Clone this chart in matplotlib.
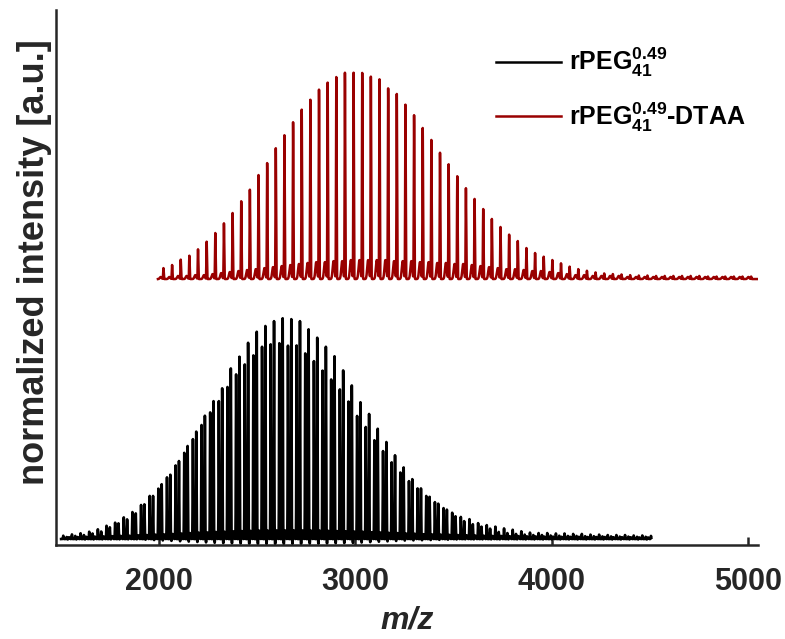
import numpy as np
import matplotlib
matplotlib.use('Agg')
import matplotlib.pyplot as plt
from matplotlib.lines import Line2D

plt.rcParams['font.family'] = ['Liberation Sans', 'DejaVu Sans']
plt.rcParams['font.weight'] = 'bold'
plt.rcParams['mathtext.fontset'] = 'custom'
plt.rcParams['mathtext.bf'] = 'Liberation Sans:bold'
plt.rcParams['mathtext.rm'] = 'Liberation Sans:bold'
plt.rcParams['mathtext.it'] = 'Liberation Sans:bold:italic'

#####peak lists (intensity in % of series max)#####
# rPEG41 : main series (tall member of each doublet)
black_mz_a = [1531, 1575, 1619, 1663, 1707, 1751, 1795, 1839, 1883, 1927, 1971, 2015,
              2059, 2103, 2147, 2191, 2235, 2279, 2323, 2367, 2411, 2455, 2499, 2543,
              2587, 2631, 2675, 2719, 2763, 2807, 2851, 2895, 2939, 2983, 3027, 3071,
              3115, 3159, 3203, 3247, 3291, 3335, 3379, 3423, 3467, 3511, 3555, 3599,
              3643, 3687, 3731, 3775, 3819, 3863, 3907, 3951, 3995, 4039, 4083, 4127,
              4171, 4215, 4259, 4303, 4347, 4391, 4435, 4479]
black_int_a = [0.9, 1.4, 1.8, 2.5, 3.4, 5.3, 7.1, 8.9, 11.6, 15.7, 19.5, 24.8,
               29.1, 35.3, 42.1, 48.6, 55.8, 62.4, 68.2, 77.2, 82.5, 88.8, 93.8, 96.4,
               98.6, 99.9, 99.5, 98.6, 94.9, 91.1, 87.0, 82.7, 76.3, 69.5, 61.9, 56.6,
               49.9, 43.9, 37.9, 32.4, 27.1, 22.9, 19.1, 16.0, 13.3, 10.3, 8.1, 6.7,
               5.6, 4.7, 3.2, 2.7, 2.3, 2.0, 1.8, 1.8, 1.6, 1.5, 1.4, 1.4,
               1.3, 1.3, 1.2, 1.2, 1.1, 1.1, 1.0, 1.0]
# rPEG41 : second series (left member of each doublet)
black_mz_b = [1514, 1558, 1602, 1646, 1690, 1734, 1778, 1822, 1866, 1910, 1954, 1998,
              2042, 2086, 2130, 2174, 2218, 2262, 2306, 2350, 2394, 2438, 2482, 2526,
              2570, 2614, 2658, 2702, 2746, 2790, 2834, 2878, 2922, 2966, 3010, 3054,
              3098, 3142, 3186, 3230, 3274, 3318, 3362, 3406, 3450, 3494, 3538, 3582,
              3626, 3670, 3714, 3758, 3802, 3846, 3890, 3934, 3978, 4022, 4066, 4110,
              4154, 4198, 4242, 4286, 4330, 4374, 4418, 4462, 4506]
black_int_b = [1.5, 2.1, 2.6, 3.3, 4.4, 6.0, 7.4, 9.8, 12.2, 15.4, 19.5, 22.8,
               27.9, 33.3, 39.0, 45.2, 51.6, 57.3, 62.4, 68.8, 74.5, 79.0, 83.1, 87.0,
               88.1, 88.6, 87.5, 87.6, 84.0, 80.5, 76.2, 72.2, 67.7, 62.2, 55.7, 50.7,
               44.7, 39.8, 34.7, 30.1, 26.2, 22.9, 19.5, 16.7, 14.0, 11.9, 10.0, 9.0,
               7.2, 6.3, 5.6, 4.8, 4.2, 3.5, 2.9, 2.7, 2.7, 2.5, 2.5, 2.3,
               2.3, 2.0, 2.0, 1.8, 1.8, 1.8, 1.6, 1.6, 1.4]
# small peaks between the doublets and the undershoot next to them (per doublet)
black_minor = [0.8, 0.9, 1.0, 1.1, 1.2, 1.3, 1.4, 1.5, 1.7, 1.8, 2.0, 2.1,
               2.3, 2.5, 2.7, 2.9, 3.0, 3.2, 3.3, 3.5, 3.6, 3.7, 3.8, 3.8,
               3.9, 3.9, 3.9, 3.9, 3.8, 3.8, 3.7, 3.6, 3.5, 3.4, 3.3, 3.1,
               3.0, 2.8, 2.7, 2.5, 2.4, 2.2, 2.1, 2.0, 1.9, 1.8, 1.7, 1.6,
               1.5, 1.4, 1.4, 1.3, 1.3, 1.2, 1.2, 1.1, 1.1, 1.0, 1.0, 1.0,
               0.9, 0.9, 0.9, 0.8, 0.8, 0.8, 0.7, 0.7]
black_dip = [-0.3, -0.3, -0.3, -0.3, -0.3, -0.3, -0.3, -0.3, -0.3,
             -0.5, -0.7, -0.9, -1.1, -1.3, -1.5, -1.7, -1.9, -2.1, -2.3,
             -2.4, -2.5, -2.6, -2.7, -2.7, -2.7, -2.7, -2.7, -2.7, -2.6, -2.6, -2.5, -2.4, -2.3,
             -2.2, -2.0, -1.8, -1.6, -1.4, -1.2, -1.0, -0.9, -0.8, -0.7, -0.6, -0.5, -0.4,
             -0.3, -0.3, -0.3, -0.3, -0.3, -0.3, -0.3, -0.3, -0.3, -0.3, -0.3,
             -0.3, -0.3, -0.3, -0.3, -0.3, -0.3, -0.3, -0.3, -0.3, -0.3, -0.3]

# rPEG41-DTAA
red_mz = [2024, 2068, 2112, 2156, 2200, 2244, 2288, 2332, 2376, 2420, 2464, 2508,
          2552, 2596, 2640, 2684, 2728, 2772, 2816, 2860, 2904, 2948, 2992, 3036,
          3080, 3124, 3168, 3212, 3256, 3300, 3344, 3388, 3432, 3476, 3520, 3564,
          3608, 3652, 3696, 3740, 3784, 3828, 3872, 3916, 3960, 4004, 4048, 4092,
          4136, 4180, 4224, 4268, 4312, 4356, 4400, 4444, 4488, 4532, 4576, 4620,
          4664, 4708, 4752, 4796, 4840, 4884, 4928, 4972, 5016]
red_int = [5.3, 6.8, 9.4, 11.3, 14.4, 18.1, 22.3, 27.0, 32.0, 37.7, 43.3, 50.4,
           56.2, 63.4, 69.7, 76.0, 82.1, 86.9, 91.8, 95.2, 97.9, 100.0, 100.0, 99.9,
           98.1, 96.8, 92.4, 89.7, 84.5, 79.4, 73.2, 67.4, 61.2, 55.6, 49.8, 44.0,
           38.8, 33.9, 29.1, 25.2, 21.5, 18.4, 15.0, 12.6, 10.8, 9.2, 7.6, 6.0,
           4.8, 4.0, 3.2, 2.7, 2.4, 2.2, 1.9, 1.7, 1.7, 1.5, 1.5, 1.5,
           1.5, 1.5, 1.5, 1.2, 1.2, 1.2, 1.2, 1.2, 1.2]
red_minor = [1.0, 1.0, 1.5, 1.5, 1.9, 1.9, 2.4, 2.9, 3.4, 3.9, 4.4, 4.8,
             5.3, 5.8, 6.3, 6.8, 7.3, 7.8, 8.2, 8.2, 8.7, 8.7, 9.2, 9.2,
             9.2, 9.2, 9.2, 8.7, 8.7, 8.7, 8.2, 8.2, 7.8, 7.8, 7.3, 7.3,
             6.8, 6.3, 5.8, 5.3, 4.8, 4.8, 4.4, 3.9, 3.9, 3.4, 2.9, 2.4,
             1.9, 1.9, 1.5, 1.5, 1.5, 1.5, 1.0, 1.0, 1.0, 1.0, 1.0, 1.0,
             1.0, 1.0, 1.0, 1.0, 1.0, 1.0, 1.0, 1.0, 1.0]

labels = [r'rPEG$^{\mathbf{0.49}}_{\mathbf{41}}$', r'rPEG$^{\mathbf{0.49}}_{\mathbf{41}}$-DTAA']
xticks = [2000, 3000, 4000, 5000]

black_range = (1503, 4508)
red_range = (1996, 5045)
minor_shift = 12      # Da, small peaks after each doublet
dip_shift = 6         # Da
red_minor_shift = -14 # Da
red_offset = 1.1765   # vertical stacking
red_scale = 0.933


def profile(grid, mz, inten, width):
    y = np.zeros_like(grid)
    for m, h in zip(mz, inten):
        y += h / 100.0 * np.exp(-0.5 * ((grid - m) / width) ** 2)
    return y


#####build traces#####
mz_black = np.arange(black_range[0], black_range[1], 0.25)
y_black = profile(mz_black, black_mz_a, black_int_a, 1.3)
y_black += profile(mz_black, black_mz_b, black_int_b, 1.3)
y_black += profile(mz_black, np.array(black_mz_a) + minor_shift, black_minor, 3.0)
y_black += profile(mz_black, np.array(black_mz_a) + dip_shift, black_dip, 1.2)

mz_red = np.arange(red_range[0], red_range[1], 0.25)
y_red = profile(mz_red, red_mz, red_int, 1.4)
y_red += profile(mz_red, np.array(red_mz) + red_minor_shift, red_minor, 4.5)
y_red = red_offset + red_scale * y_red

#####plot#####
dark = '#262626'
red = '#990000'
fig = plt.figure(figsize=(7.85, 6.39), dpi=100)
ax = fig.add_axes([56/785, 94/639, 702/785, 535/639])

ax.plot(mz_black, y_black, color='black', lw=1.9)
ax.plot(mz_red, y_red, color=red, lw=1.8)

ax.set_xlim(1477, 5051)
ax.set_ylim(-0.027, 2.394)
ax.set_xticks(xticks)
ax.set_yticks([])
ax.tick_params(axis='x', direction='in', length=6, width=1.8, colors=dark,
               labelsize=22, pad=16)
for s in ['top', 'right']:
    ax.spines[s].set_visible(False)
for s in ['left', 'bottom']:
    ax.spines[s].set_color(dark)
    ax.spines[s].set_linewidth(1.8)

ax.set_xlabel('m/z', fontsize=23, fontstyle='italic', fontweight='bold', color=dark, labelpad=6)
ax.set_ylabel('normalized intensity [a.u.]', fontsize=26, fontweight='bold', color=dark)
ax.yaxis.set_label_coords(-0.006, 0.529)
ax.yaxis.label.set_va('bottom')

handles = [Line2D([], [], color='black', lw=1.8), Line2D([], [], color=red, lw=1.8)]
leg = ax.legend(handles, labels, loc='upper left', bbox_to_anchor=(0.595, 0.975),
                frameon=False, fontsize=18, handlelength=2.6, handletextpad=0.3,
                labelspacing=0.85)
for t in leg.get_texts():
    t.set_color('black')

fig.savefig('out.png', dpi=100)
